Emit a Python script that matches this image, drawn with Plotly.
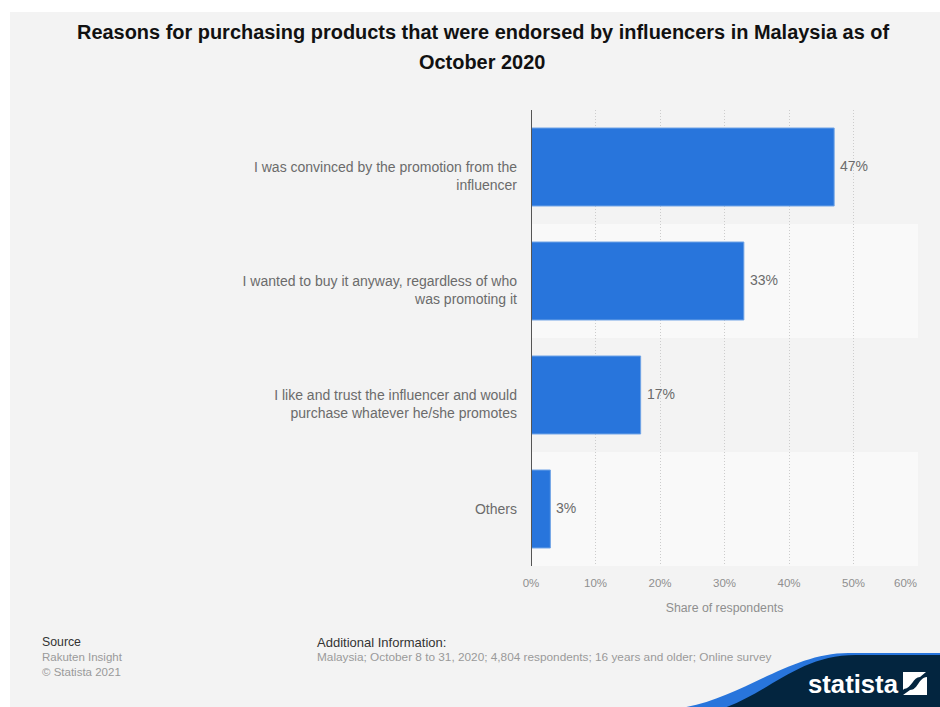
import plotly.graph_objects as go

categories = [
    "I was convinced by the promotion from the influencer",
    "I wanted to buy it anyway, regardless of who was promoting it",
    "I like and trust the influencer and would purchase whatever he/she promotes",
    "Others",
]
# Wrapped labels: the leading blank line keeps the first text line level with the bar centre
category_labels = [
    " <br>I was convinced by the promotion from the<br>influencer",
    " <br>I wanted to buy it anyway, regardless of who<br>was promoting it",
    " <br>I like and trust the influencer and would<br>purchase whatever he/she promotes",
    "Others",
]
shares = [47, 33, 17, 3]
x_ticks = [0, 10, 20, 30, 40, 50, 60]
# the last tick label is right-aligned to the plot edge, so it is placed separately
x_tick_labels = ["0%", "10%", "20%", "30%", "40%", "50%", ""]
title_lines = [
    "Reasons for purchasing products that were endorsed by influencers in Malaysia as of",
    "October 2020",
]

GREY = "#6b6b6b"
FONT = "Liberation Sans"
PANEL = "#f3f3f3"
LEFT, RIGHT, TOP, BOTTOM = 531, 918, 110, 566


def px(x):
    return (x - LEFT) / (RIGHT - LEFT)


def py(y):
    return (BOTTOM - y) / (BOTTOM - TOP)


fig = go.Figure(go.Bar(
    y=categories, x=shares, orientation="h",
    marker=dict(color="#2875dc", line=dict(color="#6fa3e6", width=1)),
    width=0.684,
    cliponaxis=False,
))

shapes = [
    # page panel
    dict(type="rect", xref="paper", yref="paper", layer="below",
         x0=px(10), x1=px(942), y0=py(712), y1=py(12),
         fillcolor=PANEL, line_width=0),
]
# alternating row bands behind the bars
for i, c in enumerate([PANEL, "#f9f9f9", PANEL, "#f9f9f9"]):
    shapes.append(dict(type="rect", xref="x", yref="y", layer="below",
                       x0=0, x1=60, y0=i - 0.5, y1=i + 0.5,
                       fillcolor=c, line_width=0))
# vertical baseline
shapes.append(dict(type="line", xref="x", yref="paper", layer="above",
                   x0=0, x1=0, y0=0, y1=1, line=dict(color="#555555", width=2)))
# footer wave with its blue edge
shapes.append(dict(type="path", xref="paper", yref="paper", layer="above", line_width=0,
                   fillcolor="#2875dc",
                   path=f"M {px(680)} {py(708)} C {px(740)} {py(700)}, {px(790)} {py(652)}, {px(850)} {py(653)} "
                        f"L {px(942)} {py(653)} L {px(942)} {py(708)} Z"))
shapes.append(dict(type="path", xref="paper", yref="paper", layer="above", line_width=0,
                   fillcolor="#03253f",
                   path=f"M {px(724)} {py(708)} C {px(770)} {py(692)}, {px(800)} {py(654)}, {px(858)} {py(655)} "
                        f"L {px(942)} {py(655)} L {px(942)} {py(708)} Z"))
# logo mark, two white pieces split by a curved gap
shapes.append(dict(type="path", xref="paper", yref="paper", layer="above", line_width=0,
                   fillcolor="#ffffff",
                   path=f"M {px(903)} {py(672)} L {px(926)} {py(672)} L {px(920)} {py(677)} "
                        f"C {px(913)} {py(677)}, {px(912)} {py(688)}, {px(904)} {py(689)} L {px(903)} {py(690)} Z"))
shapes.append(dict(type="path", xref="paper", yref="paper", layer="above", line_width=0,
                   fillcolor="#ffffff",
                   path=f"M {px(927)} {py(677)} L {px(927)} {py(695)} L {px(903)} {py(695)} L {px(910)} {py(690)} "
                        f"C {px(918)} {py(690)}, {px(918)} {py(678)}, {px(927)} {py(677)} Z"))


def note(x, y, text, size, color, anchor="left"):
    return dict(xref="paper", yref="paper", x=px(x), y=py(y), text=text, showarrow=False,
                xanchor=anchor, yanchor="middle", align=anchor, borderpad=0,
                font=dict(family=FONT, size=size, color=color))


annotations = [
    note(483, 32, f"<b>{title_lines[0]}</b>", 19.95, "#111111", "center"),
    note(482, 62, f"<b>{title_lines[1]}</b>", 19.95, "#111111", "center"),
    note(41, 642, "Source", 12.3, "#333333"),
    note(41, 657, "Rakuten Insight", 11.5, "#9a9a9a"),
    note(41, 672, "© Statista 2021", 11.5, "#9a9a9a"),
    note(316, 642, "Additional Information:", 13, "#333333"),
    note(316, 657, "Malaysia; October 8 to 31, 2020; 4,804 respondents; 16 years and older; Online survey",
         11.8, "#9a9a9a"),
    note(807, 684, "<b>statista</b>", 25.7, "#ffffff"),
    note(918, 583, "60%", 11.5, "#8f8f8f", "right"),
]
# value labels beside each bar
for cat, v in zip(categories, shares):
    annotations.append(dict(xref="x", yref="y", x=v, y=cat, text=f"{v}%", showarrow=False,
                            xanchor="left", yanchor="middle", xshift=5, yshift=1.5, borderpad=0,
                            font=dict(family=FONT, size=14, color=GREY)))

fig.update_layout(
    width=940, height=707,
    margin=dict(l=LEFT, r=940 - RIGHT, t=TOP, b=707 - BOTTOM, autoexpand=False),
    paper_bgcolor="#ffffff", plot_bgcolor="rgba(0,0,0,0)",
    showlegend=False,
    shapes=shapes, annotations=annotations,
    font=dict(family=FONT),
    xaxis=dict(range=[0, 60], tickvals=x_ticks, ticktext=x_tick_labels,
               showgrid=True, gridcolor="#cccccc", griddash="1px,2px", gridwidth=1,
               zeroline=False, showline=False, ticks="outside", ticklen=6, tickcolor="rgba(0,0,0,0)",
               tickfont=dict(family=FONT, size=11.5, color="#8f8f8f"),
               title=dict(text="Share of respondents", standoff=15,
                          font=dict(family=FONT, size=12.3, color="#8f8f8f"))),
    yaxis=dict(categoryorder="array", categoryarray=categories,
               tickmode="array", tickvals=categories, ticktext=category_labels,
               autorange="reversed", showgrid=False, zeroline=False, showline=False,
               ticks="", ticklabelstandoff=13,
               tickfont=dict(family=FONT, size=14, color=GREY)),
)

fig.write_html("out.html")
